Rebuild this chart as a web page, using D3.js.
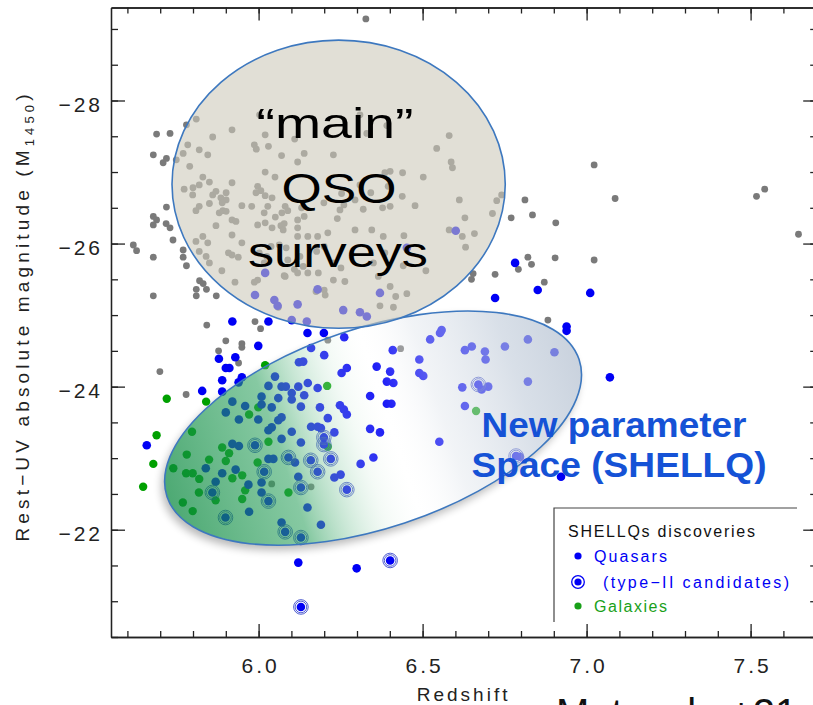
<!DOCTYPE html>
<html>
<head>
<meta charset="utf-8">
<script src="https://cdn.jsdelivr.net/npm/d3@7"></script>
<style>
  body { margin: 0; background: #fff; }
  svg { display: block; font-family: "Liberation Sans", Arial, sans-serif; }
</style>
</head>
<body>
<svg id="chart" width="813" height="705"></svg>
<script>
/** Data: [redshift, M1450] **/
var qsoKnown = [
  [6.327,-29.14],
  [5.689,-27.53],[5.730,-27.54],[5.679,-27.24],[5.709,-27.13],[5.719,-27.19],
  [5.719,-26.51],[5.679,-26.38],[5.689,-26.33],[5.679,-26.26],[5.718,-26.28],[5.730,-26.22],
  [5.739,-26.05],[5.618,-25.98],[5.628,-25.90],[5.679,-25.81],[5.770,-25.91],[5.770,-25.81],
  [5.780,-25.69],[5.820,-25.48],[5.831,-25.44],[5.841,-25.36],[5.810,-25.36],[5.810,-25.27],
  [5.679,-25.27],[5.871,-25.27],[5.780,-27.66],[5.842,-24.86],[5.989,-24.91],[6.006,-24.81],
  [5.900,-24.64],[5.949,-24.60],[5.949,-24.55],[5.878,-24.50],[5.939,-24.33],[5.699,-24.21],
  [5.779,-23.89],[6.211,-24.65],[6.433,-24.53],[6.040,-22.64],[6.160,-22.60],[6.882,-24.93],
  [7.023,-27.10],[7.087,-26.63],[7.518,-26.66],[7.543,-26.76],[7.646,-26.13],
  [6.812,-26.61],[6.835,-26.40],[6.770,-26.36],[6.906,-26.29],[6.821,-25.81],[6.832,-25.71],
  [6.904,-25.80],[6.792,-25.64],[6.721,-25.57],[6.654,-25.58],[6.649,-25.50],[6.871,-25.46],
  [7.023,-25.77],
  [5.810,-27.74],[5.784,-27.38],[5.770,-27.26],[5.790,-27.08],[5.749,-27.17],[5.819,-27.31],
  [5.845,-27.24],[5.860,-27.49],[5.919,-27.59],[6.003,-27.80],[5.987,-27.38],[5.993,-27.32],
  [6.020,-27.52],[6.030,-27.36],[6.110,-27.46],[6.070,-27.23],[6.139,-27.26],[6.119,-27.14],
  [5.830,-26.93],[5.850,-26.86],[5.819,-26.82],[5.800,-26.78],[5.773,-26.76],[5.799,-26.68],
  [5.860,-26.68],[5.870,-26.73],[5.885,-26.64],[5.901,-26.71],[5.901,-26.61],[5.889,-26.57],
  [5.919,-26.85],[5.949,-26.53],[5.819,-26.52],[5.809,-26.46],[5.850,-26.56],[5.880,-26.43],
  [5.891,-26.46],[5.901,-26.45],[5.919,-26.33],[5.931,-26.31],[5.870,-26.25],[5.809,-26.03],
  [5.830,-26.10],[5.845,-26.01],[5.819,-25.89],[5.840,-25.82],[5.850,-25.73],[5.888,-25.62],
  [5.919,-25.84],[5.908,-25.87],[5.919,-26.12],[5.949,-26.01],[5.938,-25.81],[5.979,-26.52],
  [5.997,-26.80],[6.007,-26.74],[5.992,-26.71],[6.020,-27.00],[6.020,-26.67],[6.028,-26.52],
  [6.017,-26.43],[6.041,-26.64],[6.050,-26.93],[6.051,-26.37],[6.071,-26.43],[6.089,-26.46],
  [5.997,-26.26],[6.020,-26.29],[6.041,-26.22],[6.068,-26.25],[6.078,-26.28],[6.119,-26.33],
  [6.139,-26.38],[6.119,-26.22],[6.119,-26.10],[6.150,-26.10],[6.180,-26.10],[6.211,-26.15],
  [6.063,-25.98],[6.084,-25.94],[6.089,-25.77],[6.078,-25.55],[6.109,-25.64],[6.038,-25.96],
  [6.017,-25.73],[5.997,-25.49],[5.987,-25.46],[5.928,-25.46],[6.119,-25.59],[6.150,-25.59],
  [6.200,-25.96],[6.200,-25.35],[6.081,-25.54],[6.203,-25.28],[6.060,-25.11],[6.228,-27.24],
  [6.131,-26.50],[6.248,-26.47],[6.199,-26.57],[6.081,-26.52],[6.075,-26.19],[6.025,-25.82],
  [6.002,-25.87],[6.126,-25.82],[6.177,-25.89],[6.228,-25.73],[6.136,-25.68],[6.182,-25.59],
  [6.228,-25.49],[6.263,-25.47],[6.391,-27.65],[6.330,-27.54],[6.309,-27.80],[6.385,-26.99],
  [6.395,-26.80],[6.438,-26.66],[6.309,-26.82],[6.401,-26.52],[6.581,-27.51],[6.543,-27.33],
  [6.587,-27.14],[6.591,-27.06],[6.502,-26.93],[6.439,-26.99],[6.401,-27.01],[6.342,-26.71],
  [6.319,-26.48],[6.253,-26.70],[6.260,-26.54],[6.240,-26.35],[6.477,-26.53],[6.378,-26.50],
  [6.612,-26.61],[6.726,-26.60],[6.741,-26.68],[6.713,-26.42],[6.629,-26.36],[6.658,-26.14],
  [6.581,-26.19],[6.621,-26.10],[6.631,-25.95],[6.443,-26.11],[6.441,-25.69],[6.510,-25.62],
  [6.350,-25.73],[6.251,-25.66],[6.418,-25.26],[6.452,-25.30],[6.370,-25.13],[6.411,-25.11],
  [6.294,-26.19],[6.345,-26.19],[6.380,-26.10],[6.385,-25.87],[6.365,-25.54],[6.401,-25.40],
  [6.294,-26.61],[6.175,-25.33]
];

var shellqQuasars = [
  [6.020,-25.59],[5.989,-25.28],[6.048,-25.21],[6.058,-25.13],[6.119,-25.15],[6.180,-25.36],
  [6.101,-24.93],[6.147,-24.91],[6.258,-25.07],[6.309,-25.04],[6.330,-24.98],[6.370,-25.31],
  [6.452,-25.94],[6.601,-26.18],
  [5.920,-24.91],[6.030,-24.91],[6.149,-24.75],[6.199,-24.75],[6.558,-24.79],[6.553,-24.75],
  [6.523,-24.66],[6.721,-25.24],[6.782,-25.73],[6.851,-25.35],[6.939,-24.84],[6.939,-24.78],
  [7.011,-25.31],[7.071,-24.13],[5.999,-24.57],[5.879,-24.39],[5.929,-24.41],[5.900,-24.26],
  [5.911,-24.26],[5.949,-24.13],[5.939,-24.06],[5.889,-24.09],[5.889,-23.93],[5.828,-23.94],
  [5.659,-23.18],[6.160,-24.54],[6.261,-24.69],
  [6.409,-24.51],[6.490,-24.38],[6.490,-24.19],[6.502,-24.15],[6.360,-24.28],[6.401,-24.21],
  [6.391,-24.07],[6.411,-24.05],[6.340,-23.87],[6.391,-23.76],[6.405,-23.76],[6.340,-23.41],
  [6.370,-23.36],[6.311,-22.92],[6.350,-23.01],
  [6.551,-23.23],[6.621,-23.99],[6.629,-23.73],[6.629,-24.51],[6.650,-24.56],[6.690,-24.49],
  [6.692,-24.38],[6.751,-24.56],[6.821,-24.66],[6.902,-24.48],[6.821,-24.07],[6.680,-23.96],
  [6.700,-24.00],[6.797,-23.02],[6.922,-22.74],
  [6.136,-24.35],[6.123,-24.34],[6.200,-24.44],[6.253,-24.19],[6.269,-24.26],[6.248,-23.74],
  [6.260,-23.68],[6.269,-23.61],[6.211,-23.56],[6.187,-23.71],[6.180,-23.98],[6.150,-24.05],
  [6.121,-24.00],[6.139,-23.88],[6.129,-23.72],[6.101,-23.91],[6.101,-23.82],[6.070,-24.00],
  [6.083,-24.00],[6.030,-24.01],[6.050,-24.14],[6.009,-23.86],[6.009,-23.75],[6.060,-23.84],
  [6.040,-23.71],[5.999,-23.54],[5.959,-23.73],[5.920,-23.79],[5.900,-23.64],[5.940,-23.54],
  [6.070,-23.57],[6.060,-23.53],[6.040,-23.43],[6.030,-23.39],[6.101,-23.37],[6.070,-23.27],
  [6.160,-23.44],[6.180,-23.44],[6.190,-23.42],[6.231,-23.36],
  [6.129,-23.22],[5.920,-23.20],[5.940,-23.17],[5.839,-22.86],[5.869,-22.67],[5.889,-22.79],
  [5.930,-22.84],[6.030,-22.99],[6.045,-22.99],[6.009,-22.66],[6.009,-22.52],[5.969,-22.63],
  [5.971,-22.25],[6.111,-22.94],[6.121,-22.74],[6.231,-22.73],[6.250,-22.77],[6.149,-22.31],
  [6.070,-22.10],[6.190,-22.07],[6.121,-21.54],[6.299,-21.46]
];

// Quasars drawn with a ring (type-II candidates)
var shellqType2 = [
  [6.269,-22.56],[6.670,-24.03],[6.785,-23.03],[6.199,-23.29],[6.199,-23.19],[5.989,-23.18],
  [6.017,-22.81],[6.030,-22.40],[5.859,-22.52],[5.899,-22.17],[6.091,-23.01],[6.129,-22.59],
  [6.159,-22.97],[6.180,-22.81],[6.220,-22.99],[6.081,-21.97],[6.129,-21.89],[6.401,-21.57],
  [6.129,-20.92]
];

var shellqGalaxies = [
  [6.020,-24.30],[5.720,-23.83],[5.840,-23.79],[5.689,-23.32],[5.797,-23.37],[5.679,-22.92],
  [5.648,-22.60],[6.209,-24.01],[5.999,-23.71],[5.971,-23.61],[6.030,-23.23],[6.211,-23.16],
  [5.889,-23.15],[5.910,-23.07],[5.900,-22.96],[5.849,-22.98],[5.781,-23.05],[5.779,-22.79],
  [5.740,-22.86],[5.799,-22.79],[5.819,-22.71],[5.920,-22.72],[5.950,-22.76],[5.997,-22.94],
  [5.959,-22.55],[5.950,-22.43],[5.869,-22.41],[5.818,-22.52],[5.769,-22.38],[5.799,-22.26],
  [6.091,-22.52],[6.663,-23.66]
];

var xTicksMajor = [6.0, 6.5, 7.0, 7.5];
var yTicksMajor = [-28, -26, -24, -22];

// Annotation ellipses, in data units
var mainEllipse = { cx: 6.244, cy: -26.83, rx: 0.508, ry: 2.014 };
var newEllipse  = { cx: 6.349, cy: -23.42, rx: 0.662, ry: 1.398, angle: -18.4 };

var mainLabel = ["\u201Cmain\u201D", "QSO", "surveys"];
var newLabel  = ["New parameter", "Space (SHELLQ)"];
var legendItems = ["Quasars", "(type\u2212II candidates)", "Galaxies"];


/**
 * Draw the whole figure.
 */
function drawChart()
{
    var svg = d3.select("#chart");

    var col_gray   = '#7a7a7a';
    var col_blue   = '#0000f5';
    var col_green  = '#00a000';
    var col_edge   = '#3d78bf';
    var col_text   = '#1552d6';

    var xScale = d3.scaleLinear().domain([5.55, 7.7]).range([111, 816.2]);
    var yScale = d3.scaleLinear().domain([-29.3, -20.5]).range([7.5, 637]);

    var x0 = xScale.range()[0], x1 = xScale.range()[1];
    var y0 = yScale.range()[0], y1 = yScale.range()[1];

    var xMinor = d3.range(5.6, 7.75, 0.1).map(function(d) { return +d.toFixed(1); });
    var yMinor = d3.range(-29, -20.4, 0.5);

    var defs = svg.append("defs");

    // Gradient running along the major axis of the SHELLQ ellipse.
    var grad = defs.append("linearGradient")
        .attr("id", "newGrad")
        .attr("x1", 0).attr("y1", 0).attr("x2", 1).attr("y2", 0);
    [[0.00, '#08883d', 0.72],
     [0.28, '#2fa25f', 0.58],
     [0.46, '#d3ecdc', 0.25],
     [0.54, '#ffffff', 0.10],
     [0.66, '#dde3ea', 0.40],
     [0.85, '#c1ccda', 0.62],
     [1.00, '#b0bdce', 0.68]].forEach(function(s) {
        grad.append("stop")
            .attr("offset", s[0])
            .attr("stop-color", s[1])
            .attr("stop-opacity", s[2]);
    });

    defs.append("filter").attr("id", "blur")
        .attr("x", "-20%").attr("y", "-20%").attr("width", "140%").attr("height", "140%")
        .append("feGaussianBlur").attr("stdDeviation", 4);

    var ncx = xScale(newEllipse.cx), ncy = yScale(newEllipse.cy);
    var nrx = xScale(newEllipse.cx + newEllipse.rx) - ncx;
    var nry = yScale(newEllipse.cy + newEllipse.ry) - ncy;

    // Mask so the soft shadow only shows outside the ellipse.
    var mask = defs.append("mask").attr("id", "outsideNew")
        .attr("maskUnits", "userSpaceOnUse")
        .attr("x", 0).attr("y", 0).attr("width", 813).attr("height", 705);
    mask.append("rect").attr("width", 813).attr("height", 705).attr("fill", "#fff");
    mask.append("ellipse")
        .attr("transform", "translate(" + ncx + "," + ncy + ") rotate(" + newEllipse.angle + ")")
        .attr("rx", nrx).attr("ry", nry).attr("fill", "#000");

    svg.append("g").attr("mask", "url(#outsideNew)")
        .append("ellipse")
        .attr("transform", "translate(" + (ncx - 3) + "," + (ncy + 5) + ") rotate(" + newEllipse.angle + ")")
        .attr("rx", nrx).attr("ry", nry)
        .attr("fill", "#000").attr("opacity", 0.28)
        .attr("filter", "url(#blur)");

    // Points.
    var pts = svg.append("g");

    pts.selectAll(null).data(qsoKnown).enter()
        .append("circle")
        .attr("cx", function(d) { return xScale(d[0]); })
        .attr("cy", function(d) { return yScale(d[1]); })
        .attr("r", 3.4)
        .style("fill", col_gray);

    pts.selectAll(null).data(shellqGalaxies).enter()
        .append("circle")
        .attr("cx", function(d) { return xScale(d[0]); })
        .attr("cy", function(d) { return yScale(d[1]); })
        .attr("r", 4.2)
        .style("fill", col_green);

    pts.selectAll(null).data(shellqQuasars.concat(shellqType2)).enter()
        .append("circle")
        .attr("cx", function(d) { return xScale(d[0]); })
        .attr("cy", function(d) { return yScale(d[1]); })
        .attr("r", 4.3)
        .style("fill", col_blue);

    [5.8, 7.3].forEach(function(r) {
        pts.selectAll(null).data(shellqType2).enter()
            .append("circle")
            .attr("cx", function(d) { return xScale(d[0]); })
            .attr("cy", function(d) { return yScale(d[1]); })
            .attr("r", r)
            .style("fill", "none")
            .style("stroke", "#2636c4")
            .style("stroke-width", 0.8);
    });

    // "New parameter space" ellipse over the points.
    svg.append("ellipse")
        .attr("transform", "translate(" + ncx + "," + ncy + ") rotate(" + newEllipse.angle + ")")
        .attr("rx", nrx).attr("ry", nry)
        .style("fill", "url(#newGrad)")
        .style("stroke", col_edge)
        .style("stroke-width", 1.6);

    // "main" QSO surveys ellipse.
    svg.append("ellipse")
        .attr("cx", xScale(mainEllipse.cx))
        .attr("cy", yScale(mainEllipse.cy))
        .attr("rx", xScale(mainEllipse.cx + mainEllipse.rx) - xScale(mainEllipse.cx))
        .attr("ry", yScale(mainEllipse.cy + mainEllipse.ry) - yScale(mainEllipse.cy))
        .style("fill", "#cdc9ba")
        .style("fill-opacity", 0.6)
        .style("stroke", col_edge)
        .style("stroke-width", 1.6);

    // Frame + axes (ticks point inward).
    function axisText(sel) {
        sel.selectAll("text")
            .style("font-size", "21px")
            .style("letter-spacing", "3px")
            .style("fill", "#222");
        sel.selectAll("line").style("stroke", "#222").style("stroke-width", 1.3);
        sel.select(".domain").style("stroke", "#222").style("stroke-width", 1.3);
    }

    svg.append("g")
        .attr("transform", "translate(0," + y1 + ")")
        .call(d3.axisBottom(xScale).tickValues(xMinor).tickSize(-6).tickSizeOuter(0).tickFormat(""))
        .call(axisText);
    svg.append("g")
        .attr("transform", "translate(0," + y1 + ")")
        .call(d3.axisBottom(xScale).tickValues(xTicksMajor).tickSize(-13).tickSizeOuter(0)
            .tickPadding(21).tickFormat(d3.format(".1f")))
        .call(axisText)
        .selectAll("text").attr("dx", "1.5px");

    svg.append("g")
        .attr("transform", "translate(0," + y0 + ")")
        .call(d3.axisTop(xScale).tickValues(xMinor).tickSize(-6).tickSizeOuter(0).tickFormat(""))
        .call(axisText);
    svg.append("g")
        .attr("transform", "translate(0," + y0 + ")")
        .call(d3.axisTop(xScale).tickValues(xTicksMajor).tickSize(-13).tickSizeOuter(0).tickFormat(""))
        .call(axisText);

    svg.append("g")
        .attr("transform", "translate(" + x0 + ",0)")
        .call(d3.axisLeft(yScale).tickValues(yMinor).tickSize(-7).tickSizeOuter(0).tickFormat(""))
        .call(axisText);
    svg.append("g")
        .attr("transform", "translate(" + x0 + ",0)")
        .call(d3.axisLeft(yScale).tickValues(yTicksMajor).tickSize(-14).tickSizeOuter(0)
            .tickPadding(8).tickFormat(d3.format("d")))
        .call(axisText)
        .selectAll("text").attr("dy", "0.52em");

    svg.append("g")
        .attr("transform", "translate(" + x1 + ",0)")
        .call(d3.axisRight(yScale).tickValues(yMinor).tickSize(-6).tickSizeOuter(0).tickFormat(""))
        .call(axisText);
    svg.append("g")
        .attr("transform", "translate(" + x1 + ",0)")
        .call(d3.axisRight(yScale).tickValues(yTicksMajor).tickSize(-13).tickSizeOuter(0).tickFormat(""))
        .call(axisText);

    // Axis titles.
    svg.append("text")
        .attr("x", (x0 + x1) / 2).attr("y", 701)
        .attr("text-anchor", "middle")
        .style("font-size", "19px").style("letter-spacing", "3px").style("fill", "#222")
        .text("Redshift");

    var yt = svg.append("text")
        .attr("transform", "translate(29,318) rotate(-90)")
        .attr("text-anchor", "middle")
        .attr("textLength", 447)
        .style("font-size", "19px").style("fill", "#222");
    yt.append("tspan").text("Rest\u2212UV  absolute  magnitude  (M");
    yt.append("tspan").attr("dy", 5).style("font-size", "13px").text("1450");
    yt.append("tspan").attr("dy", -5).text(")");

    // Big labels.
    var mainY = [138, 203, 267], mainW = [157, 115, 180], mainX = [335, 339, 338];
    svg.selectAll(null).data(mainLabel).enter()
        .append("text")
        .attr("x", function(d, i) { return mainX[i] - mainW[i] / 2; })
        .attr("y", function(d, i) { return mainY[i]; })
        .attr("textLength", function(d, i) { return mainW[i]; })
        .attr("lengthAdjust", "spacingAndGlyphs")
        .style("font-size", "43px").style("fill", "#000")
        .text(function(d) { return d; });

    var newY = [437, 477], newW = [265, 295], newX = [614, 619];
    svg.selectAll(null).data(newLabel).enter()
        .append("text")
        .attr("x", function(d, i) { return newX[i] - newW[i] / 2; })
        .attr("y", function(d, i) { return newY[i]; })
        .attr("textLength", function(d, i) { return newW[i]; })
        .attr("lengthAdjust", "spacingAndGlyphs")
        .style("font-size", "35px").style("font-weight", "bold").style("fill", col_text)
        .text(function(d) { return d; });

    // Legend box (top and left edges only).
    var lg = svg.append("g");
    lg.append("rect").attr("x", 554).attr("y", 508).attr("width", 243).attr("height", 114)
        .style("fill", "#fff");
    lg.append("path").attr("d", "M554,622V508H797")
        .style("fill", "none").style("stroke", "#444").style("stroke-width", 1.2);
    lg.append("text").attr("x", 568).attr("y", 537).attr("textLength", 187)
        .style("font-size", "16px").style("fill", "#111").text("SHELLQs  discoveries");

    var legY = [562, 588, 612], legX = [594, 603, 594], legW = [73, 186, 73];
    var legCol = [col_blue, col_blue, '#19a019'];
    lg.selectAll(null).data(legendItems).enter()
        .append("text")
        .attr("x", function(d, i) { return legX[i]; })
        .attr("y", function(d, i) { return legY[i]; })
        .attr("textLength", function(d, i) { return legW[i]; })
        .style("font-size", "16px")
        .style("fill", function(d, i) { return legCol[i]; })
        .text(function(d) { return d; });
    lg.selectAll(null).data(legendItems).enter()
        .append("circle")
        .attr("cx", 578)
        .attr("cy", function(d, i) { return legY[i] - 6; })
        .attr("r", 3.6)
        .style("fill", function(d, i) { return legCol[i]; });
    lg.append("circle").attr("cx", 578).attr("cy", legY[1] - 6).attr("r", 6.3)
        .style("fill", "none").style("stroke", col_blue).style("stroke-width", 1.3);

    // Citation, cut off by the bottom edge (as in the source figure).
    svg.append("text")
        .attr("x", 556).attr("y", 727)
        .style("font-size", "40px").style("fill", "#111")
        .text("Matsuoka+21");
}

drawChart();
</script>
</body>
</html>
